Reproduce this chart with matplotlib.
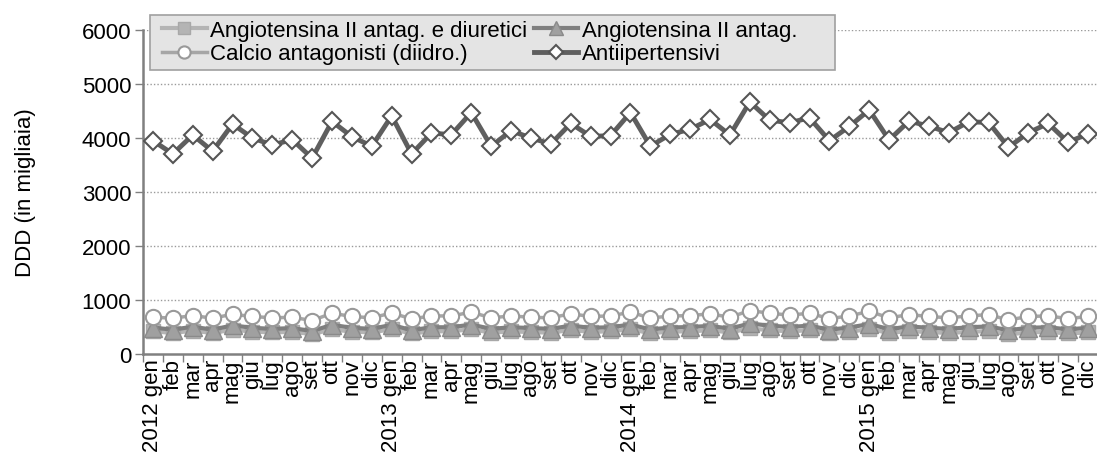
import matplotlib
matplotlib.use("Agg")
import matplotlib.pyplot as plt
from matplotlib.ticker import FixedLocator
from matplotlib.patches import Rectangle

plt.rcParams['font.family'] = ['Liberation Sans', 'DejaVu Sans']

months = ["gen", "feb", "mar", "apr", "mag", "giu", "lug", "ago", "set", "ott", "nov", "dic"]
years = ["2012", "2013", "2014", "2015"]
labels = []
for y in years:
    for i, m in enumerate(months):
        labels.append(f"{y} {m}" if i == 0 else m)

antiipertensivi = [3950, 3705, 4055, 3755, 4258, 4000, 3870, 3970, 3626, 4307, 4025, 3847,
                   4410, 3705, 4092, 4061, 4472, 3847, 4135, 4000, 3890, 4270, 4030, 4043,
                   4472, 3847, 4068, 4160, 4344, 4055, 4668, 4330, 4282, 4374, 3950, 4214,
                   4520, 3963, 4313, 4220, 4098, 4300, 4288, 3828, 4098, 4270, 3920, 4080]
calcio = [680, 665, 710, 665, 735, 695, 670, 680, 620, 755, 695, 670,
          760, 650, 705, 705, 775, 670, 705, 680, 670, 745, 695, 705,
          775, 665, 705, 710, 745, 680, 805, 755, 720, 755, 655, 705,
          790, 670, 730, 695, 670, 705, 730, 630, 695, 705, 655, 695]
angio = [490, 450, 505, 450, 530, 485, 465, 480, 425, 540, 485, 465,
         540, 440, 495, 495, 545, 465, 495, 480, 465, 525, 485, 495,
         545, 455, 490, 500, 520, 470, 565, 525, 500, 525, 450, 490,
         555, 460, 510, 485, 465, 495, 510, 440, 485, 495, 455, 485]
angio_diur = [420, 390, 430, 390, 450, 415, 400, 410, 370, 455, 415, 400,
              460, 380, 420, 420, 460, 395, 420, 405, 395, 445, 410, 420,
              460, 385, 415, 420, 440, 400, 475, 440, 420, 440, 380, 410,
              465, 390, 425, 405, 390, 410, 425, 365, 400, 410, 380, 400]

W, H = 1097, 460
FS = 16
fig = plt.figure(figsize=(W / 100, H / 100), dpi=100)
ax = fig.add_axes([143 / W, 105 / H, 955 / W, 324 / H])

x = list(range(len(labels)))

l1, = ax.plot(x, angio_diur, color='#b4b4b4', lw=3, marker='s', ms=10,
              mfc='#b4b4b4', mec='#a8a8a8', label='Angiotensina II antag. e diuretici', zorder=3)
l2, = ax.plot(x, angio, color='#7f7f7f', lw=3, marker='^', ms=13,
              mfc='#a0a0a0', mec='#8a8a8a', label='Angiotensina II antag.', zorder=4)
l3, = ax.plot(x, calcio, color='#a6a6a6', lw=2.5, marker='o', ms=11,
              mfc='white', mec='#999999', mew=1.5, label='Calcio antagonisti (diidro.)', zorder=5)
l4, = ax.plot(x, antiipertensivi, color='#5f5f5f', lw=3.5, marker='D', ms=9,
              mfc='white', mec='#555555', mew=1.5, label='Antiipertensivi', zorder=6)

ax.set_xlim(-0.5, 47.5)
ax.set_ylim(0, 6000)
ax.set_yticks(range(0, 6001, 1000))
ax.tick_params(axis='y', labelsize=FS, length=6, width=1, color='#808080', pad=2.5)

ax.xaxis.set_major_locator(FixedLocator(x))
ax.set_xticklabels(labels, rotation=90, fontsize=FS, va='top', ha='center')
ax.xaxis.set_minor_locator(FixedLocator([i - 0.5 for i in range(len(labels) + 1)]))
ax.tick_params(axis='x', which='major', length=0, pad=3)
ax.tick_params(axis='x', which='minor', length=6, width=1, color='#808080')

for yv in range(1000, 6001, 1000):
    ax.axhline(yv, color='#9a9a9a', lw=1, ls=(0, (1, 1.5)), zorder=1)

for s in ['top', 'right']:
    ax.spines[s].set_visible(False)
for s in ['left', 'bottom']:
    ax.spines[s].set_color('#808080')
    ax.spines[s].set_linewidth(1.8)

ax.set_ylabel('DDD (in migliaia)', fontsize=FS, labelpad=33)

# legend box
fig.patches.append(Rectangle((150 / W, 1 - 71 / H), 685 / W, 55 / H, transform=fig.transFigure,
                             facecolor='#e4e4e4', edgecolor='#a0a0a0', lw=1.2, zorder=2))
leg = fig.legend(handles=[l1, l3, l2, l4], ncol=2, loc='upper left',
                 bbox_to_anchor=(160 / W, 1 - 19 / H), fontsize=FS,
                 frameon=False, handlelength=2.0, handletextpad=0.15, markerscale=0.8,
                 columnspacing=0.3, borderpad=0.1, labelspacing=0.1, borderaxespad=0)
leg.set_zorder(5)

fig.savefig('out.png', dpi=100)
